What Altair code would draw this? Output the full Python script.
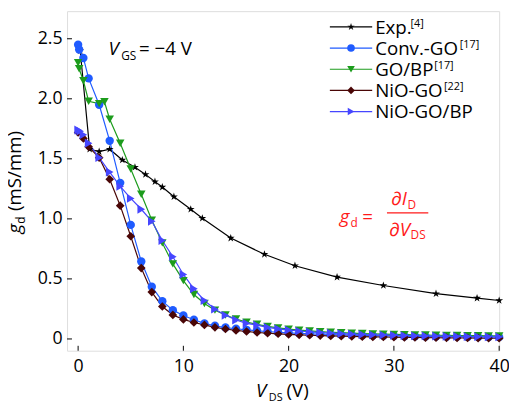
import altair as alt
import pandas as pd

# ---------------- data ----------------
SERIES = ["Exp.", "Conv.-GO", "GO/BP", "NiO-GO", "NiO-GO/BP"]
SUPS = ["[4]", "[17]", "[17]", "[22]", ""]

X_EXP = [0.2, 1.1, 2.0, 3.0, 4.2, 5.4, 6.4, 7.3, 8.0, 9.1, 10.7, 11.8, 14.5, 17.7,
         20.6, 24.6, 29.0, 34.0, 37.9, 40.0]
Y_EXP = [2.40, 1.58, 1.56, 1.58, 1.49, 1.43, 1.37, 1.31, 1.265, 1.185, 1.08, 1.005,
         0.84, 0.705, 0.61, 0.515, 0.445, 0.377, 0.34, 0.32]

TAIL_X = [11, 12, 13, 14, 15, 16, 17, 18, 19, 20, 21, 22, 23, 24, 25, 26, 27, 28,
          29, 30, 31, 32, 33, 34, 35, 36, 37, 38, 39, 40]

X_CONV = [0, 0.1, 0.5, 1, 2, 3, 4, 5, 6, 7, 8, 9, 10] + TAIL_X
Y_CONV = [2.45, 2.41, 2.34, 2.17, 1.95, 1.65, 1.30, 0.95, 0.645, 0.435, 0.315, 0.24, 0.195,
          0.16, 0.13, 0.11, 0.095, 0.085, 0.076, 0.068, 0.062, 0.056, 0.051,
          0.047, 0.043, 0.040, 0.037, 0.034, 0.032, 0.030, 0.028, 0.026, 0.025,
          0.023, 0.022, 0.021, 0.020, 0.019, 0.018, 0.017, 0.016, 0.016, 0.015]

X_GOBP = [0, 0.1, 0.5, 1, 2, 2.5, 3, 4, 5, 6, 7, 8, 9, 10] + TAIL_X
Y_GOBP = [2.30, 2.25, 2.15, 1.98, 1.96, 1.975, 1.83, 1.63, 1.415, 1.205, 0.99, 0.80, 0.625, 0.486,
          0.37, 0.295, 0.24, 0.20, 0.166, 0.14, 0.122, 0.105, 0.092, 0.082,
          0.074, 0.067, 0.061, 0.056, 0.052, 0.048, 0.045, 0.042, 0.040, 0.038,
          0.036, 0.034, 0.033, 0.031, 0.030, 0.029, 0.028, 0.027, 0.026, 0.025]

X_NIO = [0, 0.5, 1, 2, 3, 4, 5, 6, 7, 8, 9, 10] + TAIL_X
Y_NIO = [1.72, 1.67, 1.60, 1.51, 1.33, 1.11, 0.855, 0.59, 0.39, 0.27, 0.20, 0.163,
         0.137, 0.117, 0.097, 0.083, 0.071, 0.062, 0.054, 0.048, 0.043, 0.038,
         0.034, 0.031, 0.028, 0.025, 0.023, 0.021, 0.019, 0.017, 0.016, 0.014,
         0.013, 0.012, 0.011, 0.010, 0.009, 0.008, 0.008, 0.007, 0.006, 0.006]

X_NIOBP = [0, 0.2, 0.5, 1, 2, 3, 4, 5, 6, 7, 8, 9, 10] + TAIL_X
Y_NIOBP = [1.74, 1.73, 1.70, 1.63, 1.51, 1.39, 1.27, 1.17, 1.08, 0.98, 0.82, 0.685, 0.537,
           0.418, 0.32, 0.248, 0.197, 0.158, 0.13, 0.115, 0.097, 0.084, 0.074,
           0.066, 0.059, 0.053, 0.048, 0.044, 0.040, 0.037, 0.034, 0.032, 0.030,
           0.028, 0.026, 0.025, 0.023, 0.022, 0.021, 0.020, 0.019, 0.018, 0.017]

X_TICKS = [0, 10, 20, 30, 40]
Y_TICKS = [0, 0.5, 1.0, 1.5, 2.0, 2.5]

# ---------------- styles / layout ----------------
COLORS = ["#000000", "#1f5bff", "#1c9c1c", "#4a0606", "#4646ff"]
STAR = ("M0,-1L0.2245,-0.309L0.951,-0.309L0.363,0.118L0.588,0.809L0,0.382"
        "L-0.588,0.809L-0.363,0.118L-0.951,-0.309L-0.2245,-0.309Z")
SHAPES = [STAR, "circle", "triangle-down", "diamond", "triangle-right"]
SIZES = [70, 80, 100, 90, 100]
RED = "#ff1a1a"
FONT = "Open Sans"

W, H = 439, 345
LEG_TOP, LEG_STEP = 16, 21.5
SUP_X = [349, 399, 373, 383, 0]

frames = []
for name, xs, ys in [("Exp.", X_EXP, Y_EXP), ("Conv.-GO", X_CONV, Y_CONV),
                     ("GO/BP", X_GOBP, Y_GOBP), ("NiO-GO", X_NIO, Y_NIO),
                     ("NiO-GO/BP", X_NIOBP, Y_NIOBP)]:
    frames.append(pd.DataFrame({"series": name, "x": xs, "y": ys}))
df = pd.concat(frames, ignore_index=True)

color = alt.Color("series:N", scale=alt.Scale(domain=SERIES, range=COLORS), legend=None)
shape = alt.Shape("series:N", scale=alt.Scale(domain=SERIES, range=SHAPES), legend=None)
size = alt.Size("series:N", scale=alt.Scale(domain=SERIES, range=SIZES), legend=None)

xscale = alt.Scale(domain=[-1.05, 40], nice=False, zero=False)
yscale = alt.Scale(domain=[-0.098, 2.73], nice=False, zero=False)

xaxis = alt.Axis(values=X_TICKS, ticks=False, tickSize=0, domain=False, grid=False,
                 title=None, labelFontSize=18, labelPadding=7, labelColor="black",
                 labelFlush=False, labelFont=FONT)
yaxis = alt.Axis(values=Y_TICKS, ticks=False, tickSize=0, domain=False, grid=False,
                 title=None, labelFontSize=18, labelPadding=5, labelColor="black",
                 labelFlush=False, labelFont=FONT,
                 labelExpr="datum.value == 0 ? '0' : format(datum.value, '.1f')")

xenc = alt.X("x:Q", scale=xscale, axis=xaxis)
yenc = alt.Y("y:Q", scale=yscale, axis=yaxis)

base = alt.Chart(df)
lines = base.mark_line(strokeWidth=1.2).encode(x=xenc, y=yenc, color=color)
points = base.mark_point(filled=True, opacity=1, strokeWidth=0).encode(
    x=xenc, y=yenc, color=color, shape=shape, size=size)

# inward ticks
ytick = alt.Chart(pd.DataFrame({"y": Y_TICKS})).mark_rule(color="black", strokeWidth=1).encode(
    y=yenc, x=alt.value(0), x2=alt.value(5))
xtick = alt.Chart(pd.DataFrame({"x": X_TICKS})).mark_rule(color="black", strokeWidth=1).encode(
    x=xenc, y=alt.value(H), y2=alt.value(H - 5))


def txt(t, x, y, size=19, italic=False, color="black", angle=0, align="left"):
    kw = dict(fontSize=size, font=FONT, color=color, align=align, baseline="alphabetic")
    if italic:
        kw["fontStyle"] = "italic"
    if angle:
        kw["angle"] = angle
    return alt.Chart(pd.DataFrame({"t": [t]})).mark_text(**kw).encode(
        x=alt.value(x), y=alt.value(y), text="t:N")


texts = [
    # y axis title
    txt("g", -47, 226, italic=True, angle=270),
    txt("d", -43, 216, size=12, angle=270),
    txt("(mS/mm)", -47, 203, angle=270),
    # x axis title
    txt("V", 192, 392, italic=True),
    txt("DS", 205, 396, size=11),
    txt("(V)", 223, 392),
    # V_GS annotation
    txt("V", 42, 45, italic=True),
    txt("GS", 55, 50, size=12),
    txt("= \u22124 V", 73, 45),
    # red formula
    txt("g", 277, 215, italic=True, color=RED),
    txt("d", 288, 219, size=12, color=RED),
    txt("=", 300, 215, color=RED),
    txt("\u2202I", 329, 197, italic=True, color=RED),
    txt("D", 346, 201, size=12, color=RED),
    txt("\u2202V", 327, 228, italic=True, color=RED),
    txt("DS", 349, 232, size=12, color=RED),
]
frac = alt.Chart(pd.DataFrame({"a": [0]})).mark_rule(color=RED, strokeWidth=1.2).encode(
    x=alt.value(325), x2=alt.value(367), y=alt.value(205))

# manual legend: one row per series (line + marker + label + superscript)
legend_layers = []
for i, (name, sup) in enumerate(zip(SERIES, SUPS)):
    row = alt.Chart(pd.DataFrame({"series": [name], "label": [name], "sup": [sup]}))
    ly = LEG_TOP + i * LEG_STEP
    legend_layers += [
        row.mark_rule(strokeWidth=1.2).encode(
            x=alt.value(267), x2=alt.value(310), y=alt.value(ly), color=color),
        row.mark_point(filled=True, opacity=1, strokeWidth=0).encode(
            x=alt.value(288.5), y=alt.value(ly), color=color, shape=shape, size=alt.value(60)),
        row.mark_text(align="left", baseline="alphabetic", fontSize=19, font=FONT,
                      color="black").encode(x=alt.value(313), y=alt.value(ly + 7), text="label:N"),
    ]
    if sup:
        legend_layers.append(
            row.mark_text(align="left", baseline="alphabetic", fontSize=11, font=FONT,
                          color="black").encode(x=alt.value(SUP_X[i]), y=alt.value(ly),
                                                text="sup:N"))

chart = alt.layer(
    lines, points, ytick, xtick, frac, *texts, *legend_layers
).properties(
    width=W, height=H,
    autosize=alt.AutoSizeParams(type="none"),
    padding={"left": 60, "top": 0, "right": 10, "bottom": 55},
).configure_view(
    stroke="black", strokeWidth=1.3
).configure(font=FONT)

chart.save("out.html", embed_options={"renderer": "svg", "actions": False})
